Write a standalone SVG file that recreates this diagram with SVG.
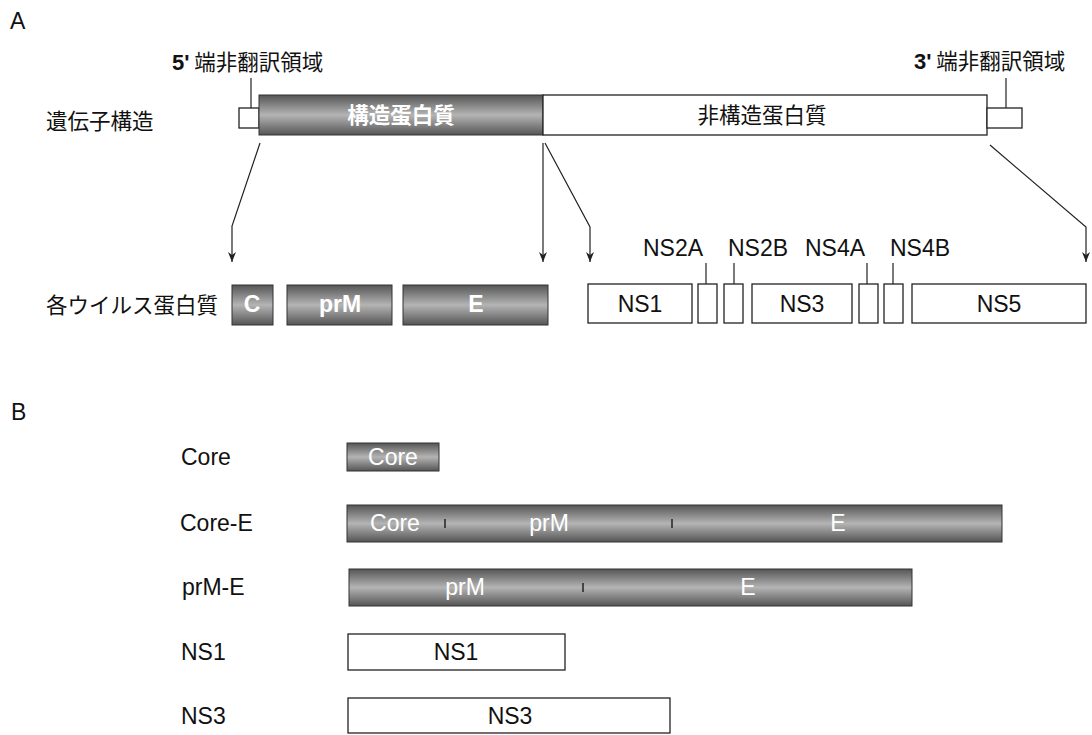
<svg xmlns="http://www.w3.org/2000/svg" width="1092" height="735" viewBox="0 0 1092 735">
<defs>
<linearGradient id="cyl" x1="0" y1="0" x2="0" y2="1">
<stop offset="0" stop-color="#555"/>
<stop offset="0.5" stop-color="#b4b4b4"/>
<stop offset="1" stop-color="#555"/>
</linearGradient>
<marker id="ah" viewBox="0 0 10 10" refX="10" refY="5" markerWidth="10" markerHeight="10" markerUnits="userSpaceOnUse" orient="auto">
<path d="M0,1 L10,5 L0,9 L3,5 z" fill="#222"/>
</marker>
<style>
text{font-family:"Liberation Sans","Noto Sans CJK JP",Arial,sans-serif;fill:#111;}
.lbl{font-size:23px;}
.cjk{font-family:"Noto Sans CJK JP","Liberation Sans",sans-serif;font-size:21.5px;}
.w{fill:#fff;}
.wb{fill:#fff;font-weight:bold;}
.g{fill:url(#cyl);stroke:#333;stroke-width:1;}
.b{fill:#fff;stroke:#222;stroke-width:1.3;}
.ln{stroke:#222;stroke-width:1.2;fill:none;}
.tick{stroke:#222;stroke-width:1.5;}
</style>
</defs>

<text class="lbl" x="10" y="29">A</text>
<text class="lbl" x="11" y="420">B</text>

<g id="gene-structure">
<text class="cjk" x="46" y="129">遺伝子構造</text>
<g id="utr5">
<text x="172" y="70" class="cjk"><tspan font-family="Liberation Sans" font-weight="bold" font-size="22">5'</tspan> 端非翻訳領域</text>
<line class="ln" x1="251" y1="78" x2="251" y2="108"/>
<rect class="b" x="239" y="108" width="20" height="20"/>
</g>
<g id="structural">
<rect class="g" x="259" y="95" width="284" height="40"/>
<text class="cjk wb" x="401" y="123" text-anchor="middle">構造蛋白質</text>
</g>
<g id="nonstructural">
<rect class="b" x="543" y="95" width="444" height="40"/>
<text class="cjk" x="762" y="123" text-anchor="middle">非構造蛋白質</text>
</g>
<g id="utr3">
<text x="914" y="69" class="cjk"><tspan font-family="Liberation Sans" font-weight="bold" font-size="22">3'</tspan> 端非翻訳領域</text>
<line class="ln" x1="1006" y1="78" x2="1006" y2="108"/>
<rect class="b" x="987" y="108" width="35" height="20"/>
</g>
</g>

<g id="connectors">
<polyline class="ln" points="260,143 232,226 232,262" marker-end="url(#ah)"/>
<polyline class="ln" points="543,143 543,262" marker-end="url(#ah)"/>
<polyline class="ln" points="545,143 590,227 590,262" marker-end="url(#ah)"/>
<polyline class="ln" points="990,145 1086,227 1086,262" marker-end="url(#ah)"/>
</g>

<g id="viral-proteins">
<text class="cjk" x="46" y="313">各ウイルス蛋白質</text>
<g id="p-C"><rect class="g" x="232" y="285" width="41" height="40"/><text class="lbl wb" x="252" y="312" text-anchor="middle">C</text></g>
<g id="p-prM"><rect class="g" x="287" y="285" width="105" height="40"/><text class="lbl wb" x="340" y="312" text-anchor="middle">prM</text></g>
<g id="p-E"><rect class="g" x="403" y="285" width="145" height="40"/><text class="lbl wb" x="476" y="312" text-anchor="middle">E</text></g>
<g id="p-NS1"><rect class="b" x="588" y="284" width="104" height="39"/><text class="lbl" x="640" y="312" text-anchor="middle">NS1</text></g>
<g id="p-NS2A"><rect class="b" x="698" y="284" width="19" height="39"/><line class="ln" x1="706" y1="263" x2="706" y2="284"/><text class="lbl" x="673" y="256" text-anchor="middle">NS2A</text></g>
<g id="p-NS2B"><rect class="b" x="724" y="284" width="19" height="39"/><line class="ln" x1="734" y1="263" x2="734" y2="284"/><text class="lbl" x="758" y="256" text-anchor="middle">NS2B</text></g>
<g id="p-NS3"><rect class="b" x="752" y="284" width="100" height="39"/><text class="lbl" x="802" y="312" text-anchor="middle">NS3</text></g>
<g id="p-NS4A"><rect class="b" x="859" y="284" width="19" height="39"/><line class="ln" x1="867" y1="263" x2="867" y2="284"/><text class="lbl" x="835" y="256" text-anchor="middle">NS4A</text></g>
<g id="p-NS4B"><rect class="b" x="884" y="284" width="19" height="39"/><line class="ln" x1="893" y1="263" x2="893" y2="284"/><text class="lbl" x="920" y="256" text-anchor="middle">NS4B</text></g>
<g id="p-NS5"><rect class="b" x="912" y="284" width="174" height="39"/><text class="lbl" x="999" y="312" text-anchor="middle">NS5</text></g>
</g>

<g id="b-core">
<text class="lbl" x="181" y="465">Core</text>
<rect class="g" x="347" y="443" width="92" height="28"/>
<text class="lbl w" x="393" y="465" text-anchor="middle">Core</text>
</g>
<g id="b-core-e">
<text class="lbl" x="180" y="531">Core-E</text>
<rect class="g" x="347" y="505" width="655" height="37"/>
<line class="tick" x1="445" y1="519" x2="445" y2="528"/>
<line class="tick" x1="672" y1="519" x2="672" y2="528"/>
<text class="lbl w" x="395" y="531" text-anchor="middle">Core</text>
<text class="lbl w" x="549" y="531" text-anchor="middle">prM</text>
<text class="lbl w" x="838" y="531" text-anchor="middle">E</text>
</g>
<g id="b-prm-e">
<text class="lbl" x="182" y="595">prM-E</text>
<rect class="g" x="349" y="569" width="563" height="37"/>
<line class="tick" x1="583" y1="583" x2="583" y2="592"/>
<text class="lbl w" x="465" y="595" text-anchor="middle">prM</text>
<text class="lbl w" x="748" y="595" text-anchor="middle">E</text>
</g>
<g id="b-ns1">
<text class="lbl" x="181" y="660">NS1</text>
<rect class="b" x="348" y="634" width="217" height="36"/>
<text class="lbl" x="456" y="660" text-anchor="middle">NS1</text>
</g>
<g id="b-ns3">
<text class="lbl" x="181" y="724">NS3</text>
<rect class="b" x="348" y="698" width="322" height="35"/>
<text class="lbl" x="510" y="724" text-anchor="middle">NS3</text>
</g>
</svg>
